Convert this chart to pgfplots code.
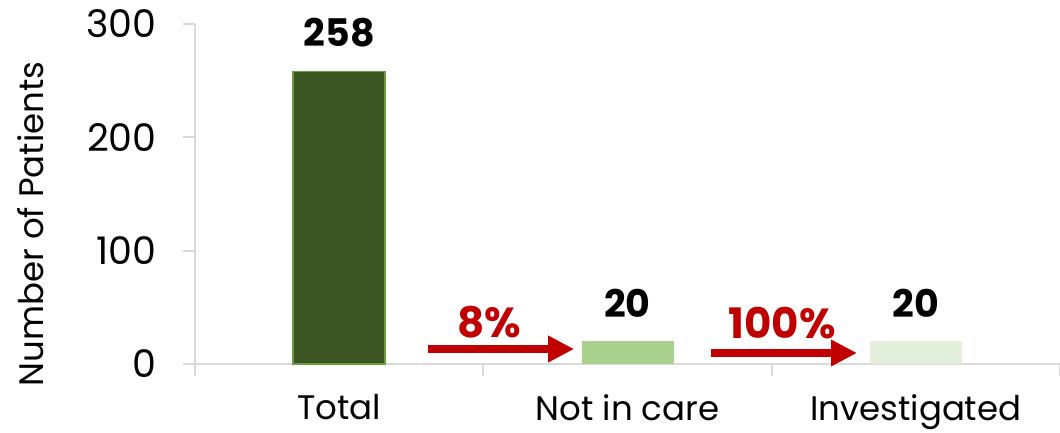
\documentclass[border=0pt]{standalone}
\usepackage{fontspec}
\setmainfont{Poppins}
\usepackage{pgfplots}
\pgfplotsset{compat=1.18}
\usetikzlibrary{arrows.meta}
\definecolor{darkgrn}{HTML}{3B5523}
\definecolor{grnedge}{HTML}{6B9A40}
\definecolor{midgrn}{HTML}{A9D18E}
\definecolor{palegrn}{HTML}{E2EFDA}
\definecolor{axgray}{HTML}{D9D9D9}
\definecolor{arrred}{HTML}{C00000}
\newcommand{\chfont}{\fontsize{19}{22}\selectfont}
\newcommand{\lblfont}{\fontsize{17}{20}\selectfont}

\begin{document}
\begin{tikzpicture}
\begin{axis}[
  scale only axis, width=432.5pt, height=170pt,
  xmin=-0.5, xmax=2.5, ymin=0, ymax=300,
  axis lines*=left,
  axis line style={draw=axgray, line width=1pt},
  ytick={0,100,200,300},
  xtick={0,1,2}, xticklabels={Total, Not in care, Investigated},
  minor xtick={-0.5,0.5,1.5,2.5},
  tick align=outside,
  major tick length=6pt, minor tick length=6pt,
  tick style={draw=axgray, line width=1pt},
  major x tick style={draw=none},
  ticklabel style={font=\chfont},
  yticklabel style={anchor=east, inner sep=0pt, xshift=-13pt},
  xticklabel style={anchor=north, inner sep=0pt, yshift=-9pt, font=\lblfont},
  /pgf/number format/assume math mode=true,
  ybar, bar width=46pt, bar shift=0pt,
  nodes near coords,
  nodes near coords style={font=\chfont\bfseries, black, inner sep=0pt, yshift=11.8pt},
  ylabel={Number of Patients},
  ylabel style={at={(axis description cs:-0.19,0.412)}, anchor=center, font=\lblfont},
  clip=false,
]
\addplot[fill=darkgrn, draw=grnedge, line width=0.75pt] coordinates {(0,258)};
\addplot[fill=midgrn, draw=none] coordinates {(1,20)};
\addplot[fill=palegrn, draw=none] coordinates {(2,20)};
\draw[arrred, line width=4pt, -{Triangle[length=13pt, width=12.5pt]}] (axis cs:0.308,13.2) -- (axis cs:0.815,13.2);
\draw[arrred, line width=4pt, -{Triangle[length=13pt, width=12.5pt]}] (axis cs:1.290,9.7) -- (axis cs:1.796,9.7);
\node[arrred, font=\fontsize{21}{24}\selectfont\bfseries] at (axis cs:0.52,37) {8\%};
\node[arrred, font=\fontsize{21}{24}\selectfont\bfseries] at (axis cs:1.536,36.2) {100\%};
\coordinate (O) at (axis cs:-0.5,0);
\end{axis}
\pgfresetboundingbox
\path[use as bounding box] ([shift={(-97.5pt,-34.5pt)}]O) rectangle ([shift={(432.5pt,182pt)}]O);
\end{tikzpicture}
\end{document}
